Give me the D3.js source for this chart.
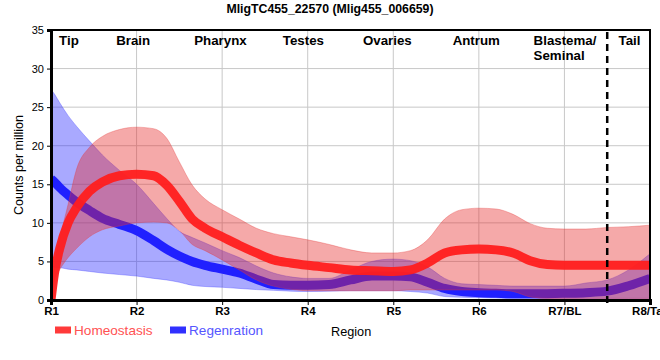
<!DOCTYPE html>
<html><head><meta charset="utf-8">
<script src="https://cdn.jsdelivr.net/npm/d3@7"></script>
<style>
html,body{margin:0;padding:0;background:#fff;}
svg{display:block;font-family:"Liberation Sans",Arial,sans-serif;}
</style></head>
<body>
<svg id="chart" width="660" height="360"></svg>
<script>
// ---- data ----
const title = "MligTC455_22570 (Mlig455_006659)";
const xTickLabels = ["R1","R2","R3","R4","R5","R6","R7/BL","R8/Tail"];
const yTicks = [0,5,10,15,20,25,30,35];
const regionNames = ["Tip","Brain","Pharynx","Testes","Ovaries","Antrum","Blastema/|Seminal","Tail"];
const regionLabelAt = [0.21,0.96,1.98,2.95,3.93,4.97,5.64,6.76];
const dividerAt = 6.5;
const seriesNames = ["Homeostasis","Regenration"];

// sample positions along the body axis (0 = R1 ... 7 = R8/Tail)
const pos = [0,0.04,0.1,0.2,0.3,0.45,0.6,0.8,1.0,1.2,1.35,1.5,1.65,1.8,2.0,2.2,2.4,2.6,2.8,3.0,3.25,3.5,3.75,4.0,4.2,4.4,4.6,4.8,5.0,5.2,5.4,5.6,5.8,6.0,6.25,6.5,6.75,7.0];

const homeo      = [0,3.4,6.6,10.0,12.0,14.1,15.3,16.1,16.3,16.1,14.9,12.8,10.5,9.3,8.2,7.1,6.1,5.2,4.8,4.5,4.2,3.9,3.8,3.7,3.9,4.8,6.1,6.5,6.6,6.5,6.1,5.1,4.6,4.5,4.5,4.5,4.5,4.5];
const homeoUpper = [0,4.5,7.8,12.4,17.0,19.8,21.2,22.1,22.4,22.2,21.0,17.9,14.9,13.1,11.7,10.5,9.3,8.6,8.2,7.8,7.2,6.5,6.1,6.1,6.4,7.8,10.5,11.7,11.9,11.8,11.1,9.9,9.3,9.2,9.2,9.4,9.5,9.7];
const homeoLower = [0,2.6,3.9,5.5,6.7,8.2,9.1,9.6,10.0,10.1,10.0,9.0,7.2,6.4,5.2,3.9,2.6,1.8,1.4,1.2,1.2,1.2,1.2,1.2,1.3,1.3,1.3,1.3,1.3,1.3,1.1,0.4,0.2,0.2,0.2,0.2,0.2,0.2];

const regen      = [15.7,15.3,14.6,13.6,12.7,11.6,10.6,9.8,9.0,7.7,6.6,5.7,5.0,4.5,4.0,3.5,2.7,2.0,1.9,1.9,2.0,2.6,3.1,3.1,3.0,2.3,1.5,1.1,0.95,0.87,0.8,0.8,0.82,0.87,0.95,1.15,1.85,2.8];
const regenUpper = [27.3,26.7,25.6,23.9,22.5,20.6,18.8,16.8,15.0,12.5,10.6,8.9,8.1,7.4,6.4,5.5,4.4,3.5,3.0,2.8,2.8,3.9,5.0,5.3,5.1,4.3,2.8,2.1,2.0,1.9,1.8,1.8,1.8,1.8,2.2,2.6,3.9,6.0];
const regenLower = [4.3,4.25,4.2,4.0,3.9,3.7,3.5,3.3,3.1,2.8,2.6,2.3,1.9,1.75,1.65,1.5,1.35,1.25,1.15,1.1,1.15,1.2,1.2,1.2,1.1,0.9,0.45,0.35,0.3,0.25,0.2,0.2,0.2,0.2,0.2,0.2,0.2,0.2];

// ---- layout ----
const svg = d3.select("#chart");
const L = 51, R = 650, T = 30, B = 300;
const x = d3.scaleLinear().domain([0,7]).range([L,R]);
const y = d3.scaleLinear().domain([0,35]).range([B,T]);

svg.append("defs").append("clipPath").attr("id","clip")
  .append("rect").attr("x",L).attr("y",T).attr("width",R-L).attr("height",B-T);

// grid
const grid = svg.append("g");
grid.selectAll("line.h").data(yTicks.slice(1)).join("line")
  .attr("x1",L).attr("x2",R).attr("y1",d=>y(d)).attr("y2",d=>y(d))
  .attr("stroke","#c8c8c8").attr("stroke-width",1);
grid.selectAll("line.v").data(d3.range(1,7)).join("line")
  .attr("y1",T).attr("y2",B).attr("x1",d=>x(d)).attr("x2",d=>x(d))
  .attr("stroke","#c8c8c8").attr("stroke-width",1);

const mk = (m,lo,hi) => pos.map((p,i)=>({p, m:m[i], lo:lo[i], hi:hi[i]}));
const H = mk(homeo,homeoLower,homeoUpper);
const G = mk(regen,regenLower,regenUpper);

const area = d3.area().curve(d3.curveMonotoneX)
  .x(d=>x(d.p)).y0(d=>y(d.lo)).y1(d=>y(d.hi));
const line = d3.line().curve(d3.curveMonotoneX)
  .x(d=>x(d.p)).y(d=>y(d.m));

const plot = svg.append("g").attr("clip-path","url(#clip)");
plot.append("path").datum(G).attr("d",area)
  .attr("fill","rgb(40,40,255)").attr("fill-opacity",0.4)
  .attr("stroke","rgb(60,60,255)").attr("stroke-opacity",0.35).attr("stroke-width",1);
plot.append("path").datum(G).attr("d",line)
  .attr("fill","none").attr("stroke","#2020ff").attr("stroke-width",9)
  .attr("stroke-linejoin","round");
plot.append("path").datum(H).attr("d",area)
  .attr("fill","rgb(230,40,40)").attr("fill-opacity",0.4)
  .attr("stroke","rgb(230,60,60)").attr("stroke-opacity",0.35).attr("stroke-width",1);
plot.append("path").datum(H).attr("d",line)
  .attr("fill","none").attr("stroke","#ff1e1e").attr("stroke-opacity",0.95).attr("stroke-width",9)
  .attr("stroke-linejoin","round");

// frame top/right
svg.append("line").attr("x1",L).attr("x2",R+1).attr("y1",T).attr("y2",T).attr("stroke","#000").attr("stroke-width",2);
svg.append("line").attr("x1",R).attr("x2",R).attr("y1",T).attr("y2",B).attr("stroke","#000").attr("stroke-width",2);

// divider
svg.append("line").attr("x1",x(dividerAt)).attr("x2",x(dividerAt)).attr("y1",T+2).attr("y2",B+5)
  .attr("stroke","#000").attr("stroke-width",2.5).attr("stroke-dasharray","7,5");

// axes
const yAxis = d3.axisLeft(y).tickValues(yTicks).tickSize(4).tickPadding(3);
const gy = svg.append("g").attr("transform",`translate(${L},0)`).call(yAxis);
gy.select(".domain").attr("stroke","#000").attr("stroke-width",3);
gy.selectAll("text").attr("font-size","11px").attr("font-family","Liberation Sans, Arial, sans-serif").attr("fill","#000");

const xAxis = d3.axisBottom(x).tickValues(d3.range(0,8)).tickFormat((d,i)=>xTickLabels[i]).tickSize(5).tickPadding(2);
const gx = svg.append("g").attr("transform",`translate(0,${B})`).call(xAxis);
gx.select(".domain").attr("stroke","#000").attr("stroke-width",3);
gx.selectAll("text").attr("font-size","11.5px").attr("font-weight","bold")
  .attr("font-family","Liberation Sans, Arial, sans-serif").attr("fill","#000");

// region labels
const rl = svg.append("g").attr("font-size","13.3px").attr("font-weight","bold").attr("fill","#000");
regionNames.forEach((n,i)=>{
  const parts = n.split("|");
  const t = rl.append("text").attr("x",x(regionLabelAt[i])).attr("y",45)
    .attr("text-anchor", parts.length>1 ? "start" : "middle");
  parts.forEach((p,j)=>{
    t.append("tspan").attr("x",x(regionLabelAt[i])).attr("dy", j===0?0:14.5).text(p);
  });
});

// title
svg.append("text").attr("x",330).attr("y",13).attr("text-anchor","middle")
  .attr("font-size","12.3px").attr("font-weight","bold").text(title);

// axis titles
svg.append("text").attr("transform","translate(23,165) rotate(-90)").attr("text-anchor","middle")
  .attr("font-size","12.5px").text("Counts per million");
svg.append("text").attr("x",331).attr("y",336).attr("font-size","12.7px").text("Region");

// legend
const legColors = ["#ff3a3a","#3030ff"];
const legText = ["#ff5252","#5656ff"];
const legX = [55,170];
seriesNames.forEach((n,i)=>{
  svg.append("rect").attr("x",legX[i]).attr("y",326.5).attr("width",16).attr("height",7).attr("fill",legColors[i]);
  svg.append("text").attr("x",legX[i]+19).attr("y",335).attr("font-size","13.6px").attr("fill",legText[i]).text(n);
});
</script>
</body></html>
